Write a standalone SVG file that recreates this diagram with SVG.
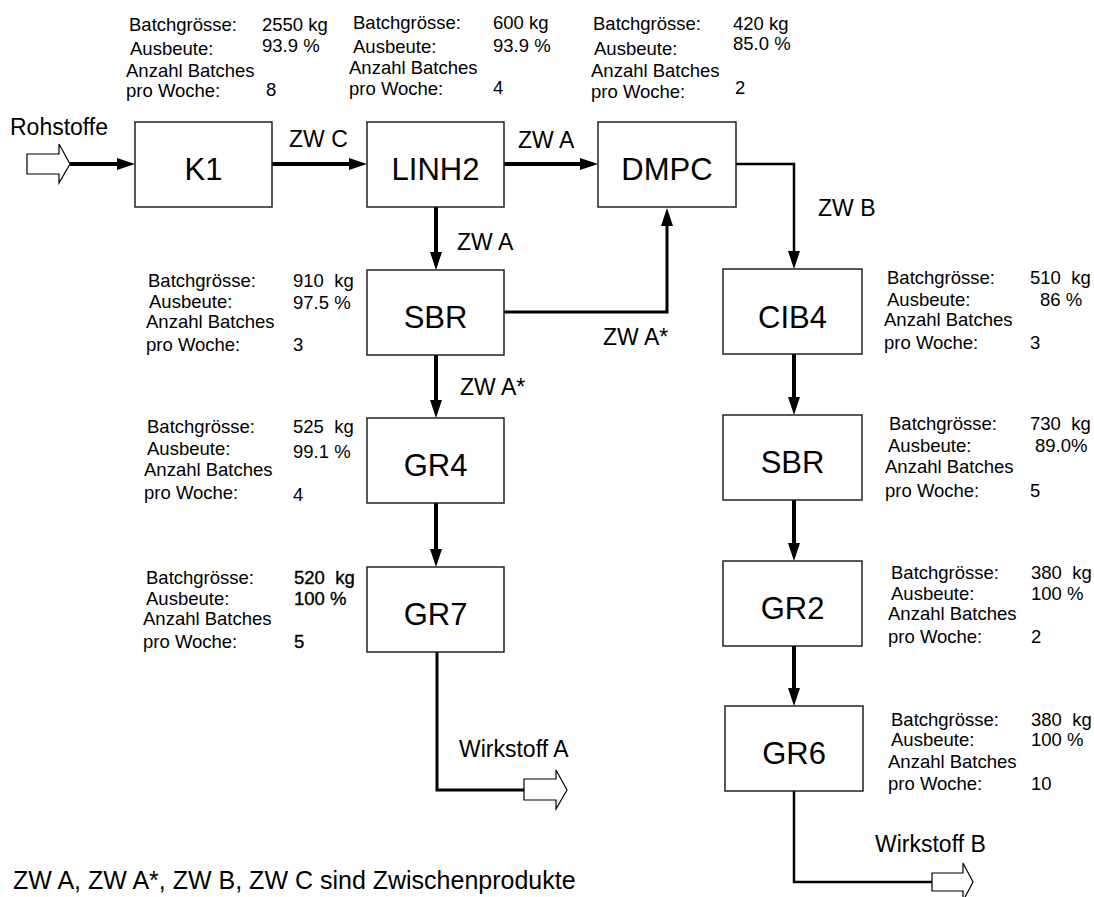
<svg xmlns="http://www.w3.org/2000/svg" width="1094" height="897" viewBox="0 0 1094 897">
<style>
text{font-family:"Liberation Sans",Arial,sans-serif;fill:#000}
.box{fill:#fff;stroke:#222;stroke-width:1.5}
.nl{font-size:31px;text-anchor:middle}
.an{font-size:18.5px;white-space:pre}
.bd{stroke:#000;stroke-width:0.35}
.el{font-size:23px}
.thick{fill:none;stroke:#000;stroke-width:4}
.med{fill:none;stroke:#000;stroke-width:3}
.thin{fill:none;stroke:#000;stroke-width:2.5}
.hollow{fill:#fff;stroke:#000;stroke-width:1.2;stroke-linejoin:miter}
</style>
<defs>
<marker id="ah" markerUnits="userSpaceOnUse" markerWidth="18" markerHeight="12" refX="1" refY="6" orient="auto">
<path d="M0,0 L18,6 L0,12 z" fill="#000"/>
</marker>
</defs>
<rect width="1094" height="897" fill="#fff"/>

<g id="connectors">
<polygon class="hollow" points="27,154 59,154 59,144 70,164 59,183 59,174 27,174"/>
<line class="thick" x1="70" y1="164" x2="118" y2="164" marker-end="url(#ah)"/>
<line class="thick" x1="272" y1="164" x2="350" y2="164" marker-end="url(#ah)"/>
<line class="thick" x1="504" y1="164" x2="581" y2="164" marker-end="url(#ah)"/>
<line class="thick" x1="436" y1="207" x2="436" y2="253" marker-end="url(#ah)"/>
<line class="thick" x1="436" y1="355" x2="436" y2="401" marker-end="url(#ah)"/>
<line class="thick" x1="436" y1="503" x2="436" y2="550" marker-end="url(#ah)"/>
<path class="med" d="M504,312 H667 V225" marker-end="url(#ah)"/>
<path class="thin" d="M736,164 H794 V252" marker-end="url(#ah)"/>
<line class="thick" x1="794" y1="354" x2="794" y2="398" marker-end="url(#ah)"/>
<line class="thick" x1="794" y1="500" x2="794" y2="544" marker-end="url(#ah)"/>
<line class="thick" x1="794" y1="646" x2="794" y2="689" marker-end="url(#ah)"/>
<path class="med" d="M437,652 V790 H524"/>
<polygon class="hollow" points="524,779 556,779 556,770 567,790 556,809 556,800 524,800"/>
<path class="thin" d="M794,791 V882 H932"/>
<polygon class="hollow" points="932,873 963,873 963,863 973,882 963,901 963,891 932,891"/>
<text class="el" x="10" y="135">Rohstoffe</text>
<text class="el" x="289" y="147">ZW C</text>
<text class="el" x="518" y="148">ZW A</text>
<text class="el" x="457" y="250">ZW A</text>
<text class="el" x="460" y="395">ZW A*</text>
<text class="el" x="603" y="345">ZW A*</text>
<text class="el" x="818" y="216">ZW B</text>
<text class="el" x="459" y="757">Wirkstoff A</text>
<text class="el" x="875" y="852">Wirkstoff B</text>
</g>

<g id="node-k1">
<rect class="box" x="135" y="122" width="137" height="85"/>
<text class="nl" x="203.5" y="180">K1</text>
<text class="an" x="129" y="31">Batchgrösse:</text><text class="an" x="262" y="31">2550 kg</text>
<text class="an" x="130" y="55">Ausbeute:</text><text class="an" x="262" y="52">93.9 %</text>
<text class="an" x="126" y="77">Anzahl Batches</text>
<text class="an" x="126" y="97">pro Woche:</text><text class="an" x="266" y="96">8</text>
</g>

<g id="node-linh2">
<rect class="box" x="367" y="122" width="137" height="85"/>
<text class="nl" x="435.5" y="180">LINH2</text>
<text class="an" x="353" y="29">Batchgrösse:</text><text class="an" x="493" y="29">600 kg</text>
<text class="an" x="353" y="53">Ausbeute:</text><text class="an" x="493" y="52">93.9 %</text>
<text class="an" x="349" y="74">Anzahl Batches</text>
<text class="an" x="349" y="95">pro Woche:</text><text class="an" x="493" y="94">4</text>
</g>

<g id="node-dmpc">
<rect class="box" x="598" y="122" width="138" height="85"/>
<text class="nl" x="667" y="180">DMPC</text>
<text class="an" x="593" y="30">Batchgrösse:</text><text class="an" x="733" y="30">420 kg</text>
<text class="an" x="594" y="55">Ausbeute:</text><text class="an" x="733" y="50">85.0 %</text>
<text class="an" x="591" y="77">Anzahl Batches</text>
<text class="an" x="591" y="98">pro Woche:</text><text class="an" x="735" y="94">2</text>
</g>

<g id="node-sbr-a">
<rect class="box" x="367" y="270" width="137" height="85"/>
<text class="nl" x="435.5" y="328">SBR</text>
<text class="an" x="148" y="287">Batchgrösse:</text><text class="an" x="293" y="287">910  kg</text>
<text class="an" x="149" y="308">Ausbeute:</text><text class="an" x="293" y="309">97.5 %</text>
<text class="an" x="146" y="328">Anzahl Batches</text>
<text class="an" x="146" y="351">pro Woche:</text><text class="an" x="293" y="351">3</text>
</g>

<g id="node-gr4">
<rect class="box" x="367" y="418" width="137" height="85"/>
<text class="nl" x="435.5" y="476">GR4</text>
<text class="an" x="147" y="433">Batchgrösse:</text><text class="an" x="293" y="433">525  kg</text>
<text class="an" x="147" y="455">Ausbeute:</text><text class="an" x="293" y="458">99.1 %</text>
<text class="an" x="144" y="476">Anzahl Batches</text>
<text class="an" x="144" y="499">pro Woche:</text><text class="an" x="293" y="501">4</text>
</g>

<g id="node-gr7">
<rect class="box" x="367" y="567" width="137" height="85"/>
<text class="nl" x="435.5" y="625">GR7</text>
<text class="an" x="146" y="584">Batchgrösse:</text><text class="an bd" x="294" y="584">520  kg</text>
<text class="an" x="146" y="605">Ausbeute:</text><text class="an bd" x="294" y="605">100 %</text>
<text class="an" x="143" y="625">Anzahl Batches</text>
<text class="an" x="143" y="648">pro Woche:</text><text class="an bd" x="294" y="648">5</text>
</g>

<g id="node-cib4">
<rect class="box" x="723" y="269" width="139" height="85"/>
<text class="nl" x="792.5" y="328">CIB4</text>
<text class="an" x="887" y="284">Batchgrösse:</text><text class="an" x="1030" y="284">510  kg</text>
<text class="an" x="887" y="306">Ausbeute:</text><text class="an" x="1040" y="306">86 %</text>
<text class="an" x="884" y="326">Anzahl Batches</text>
<text class="an" x="884" y="349">pro Woche:</text><text class="an" x="1030" y="349">3</text>
</g>

<g id="node-sbr-b">
<rect class="box" x="723" y="415" width="139" height="85"/>
<text class="nl" x="792.5" y="473">SBR</text>
<text class="an" x="889" y="430">Batchgrösse:</text><text class="an" x="1030" y="430">730  kg</text>
<text class="an" x="888" y="452">Ausbeute:</text><text class="an" x="1035" y="452">89.0%</text>
<text class="an" x="885" y="473">Anzahl Batches</text>
<text class="an" x="885" y="497">pro Woche:</text><text class="an" x="1030" y="497">5</text>
</g>

<g id="node-gr2">
<rect class="box" x="723" y="561" width="139" height="85"/>
<text class="nl" x="792.5" y="619">GR2</text>
<text class="an" x="891" y="579">Batchgrösse:</text><text class="an" x="1031" y="579">380  kg</text>
<text class="an" x="891" y="600">Ausbeute:</text><text class="an" x="1031" y="600">100 %</text>
<text class="an" x="888" y="620">Anzahl Batches</text>
<text class="an" x="888" y="643">pro Woche:</text><text class="an" x="1031" y="643">2</text>
</g>

<g id="node-gr6">
<rect class="box" x="725" y="706" width="138" height="85"/>
<text class="nl" x="794" y="764">GR6</text>
<text class="an" x="891" y="726">Batchgrösse:</text><text class="an" x="1031" y="726">380  kg</text>
<text class="an" x="891" y="746">Ausbeute:</text><text class="an" x="1031" y="746">100 %</text>
<text class="an" x="888" y="768">Anzahl Batches</text>
<text class="an" x="888" y="790">pro Woche:</text><text class="an" x="1031" y="790">10</text>
</g>

<g id="caption">
<text x="13" y="889" style="font-size:25px">ZW A, ZW A*, ZW B, ZW C sind Zwischenprodukte</text>
</g>
</svg>
